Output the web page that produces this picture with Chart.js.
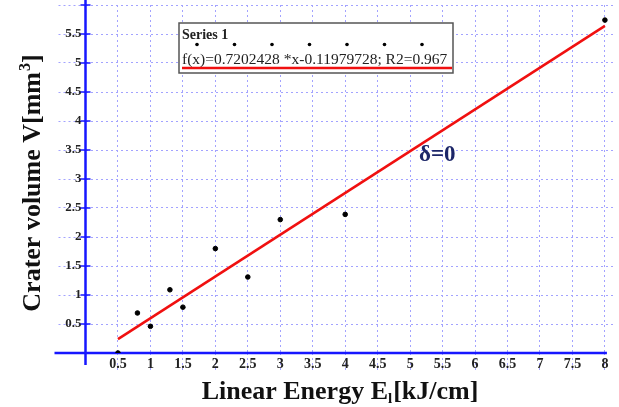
<!DOCTYPE html>
<html>
<head>
<meta charset="utf-8">
<script src="https://cdn.jsdelivr.net/npm/chart.js@4.4.1/dist/chart.umd.min.js"></script>
<style>
  html, body { margin: 0; padding: 0; background: #fff; }
  #wrap { width: 619px; height: 407px; }
</style>
</head>
<body>
<div id="wrap"><canvas id="chart" width="619" height="407"></canvas></div>
<script>
const energy = [0.5, 0.8, 1, 1.3, 1.5, 2, 2.5, 3, 4, 8];
const volume = [0, 0.69, 0.46, 1.09, 0.79, 1.8, 1.31, 2.3, 2.39, 5.74];

// regression line end points
const fitX = [0.5, 8];
const fitY = [0.24, 5.64];
const fitText = "f(x)=0.7202428 *x-0.11979728; R2=0.967";

const xTickValues = [0.5, 1, 1.5, 2, 2.5, 3, 3.5, 4, 4.5, 5, 5.5, 6, 6.5, 7, 7.5, 8];
const xTickLabels = ["0.5", "1", "1.5", "2", "2.5", "3", "3.5", "4", "4.5", "5", "5.5", "6", "6.5", "7", "7.5", "8"];
const yTickValues = [0.5, 1, 1.5, 2, 2.5, 3, 3.5, 4, 4.5, 5, 5.5, 6];
const yTickLabels = ["0.5", "1", "1.5", "2", "2.5", "3", "3.5", "4", "4.5", "5", "5.5", ""];

const SERIF = "'Liberation Serif', 'Times New Roman', serif";
const GRID = "#a3a3ff";
const AXIS = "#1717ff";

const decor = {
  id: "decor",
  beforeDatasetsDraw(chart) {
    const ctx = chart.ctx;
    const xs = chart.scales.x, ys = chart.scales.y;
    const x0 = xs.getPixelForValue(0);
    const y0 = ys.getPixelForValue(0);
    ctx.save();
    ctx.strokeStyle = AXIS;
    ctx.lineWidth = 2.5;
    ctx.beginPath();
    ctx.moveTo(x0, 0);
    ctx.lineTo(x0, y0 + 12);
    ctx.moveTo(x0 - 31, y0);
    ctx.lineTo(xs.getPixelForValue(8) + 2, y0);
    ctx.stroke();
    // short tick marks across the y axis
    ctx.lineWidth = 1.5;
    ctx.beginPath();
    ys.ticks.forEach((t) => {
      const py = ys.getPixelForValue(t.value);
      ctx.moveTo(x0 - 5, py);
      ctx.lineTo(x0 + 5, py);
    });
    ctx.stroke();
    ctx.restore();
  },
  afterDraw(chart) {
    const ctx = chart.ctx;
    ctx.save();
    ctx.fillStyle = "#111";

    // x title with subscript
    ctx.textBaseline = "alphabetic";
    const p1 = "Linear Energy E", p3 = "[kJ/cm]";
    ctx.font = "bold 26px " + SERIF;
    const w1 = ctx.measureText(p1).width, w3 = ctx.measureText(p3).width;
    ctx.font = "bold 15px " + SERIF;
    const w2 = ctx.measureText("l").width + 1;
    let tx = 340 - (w1 + w2 + w3) / 2;
    ctx.font = "bold 26px " + SERIF;
    ctx.fillText(p1, tx, 399);
    ctx.font = "bold 15px " + SERIF;
    ctx.fillText("l", tx + w1, 403);
    ctx.font = "bold 26px " + SERIF;
    ctx.fillText(p3, tx + w1 + w2, 399);

    // y title, rotated, with superscript
    ctx.save();
    ctx.translate(40, 183);
    ctx.rotate(-Math.PI / 2);
    const q1 = "Crater volume V[mm", q3 = "]";
    ctx.font = "bold 26px " + SERIF;
    const v1 = ctx.measureText(q1).width, v3 = ctx.measureText(q3).width;
    ctx.font = "bold 16px " + SERIF;
    const v2 = ctx.measureText("3").width + 1;
    let ty = -(v1 + v2 + v3) / 2;
    ctx.font = "bold 26px " + SERIF;
    ctx.fillText(q1, ty, 0);
    ctx.font = "bold 16px " + SERIF;
    ctx.fillText("3", ty + v1 + 1, -10);
    ctx.font = "bold 26px " + SERIF;
    ctx.fillText(q3, ty + v1 + v2, 0);
    ctx.restore();

    // legend box
    const bx = 179, by = 23, bw = 274, bh = 50;
    ctx.fillStyle = "#fff";
    ctx.fillRect(bx, by, bw, bh);
    ctx.strokeStyle = "#555";
    ctx.lineWidth = 1.5;
    ctx.strokeRect(bx, by, bw, bh);
    ctx.fillStyle = "#222";
    ctx.font = "bold 14px " + SERIF;
    ctx.textBaseline = "middle";
    ctx.fillText("Series 1", 182, 35);
    ctx.fillStyle = "#000";
    for (let dx = 197; dx < bx + bw - 20; dx += 37.5) {
      ctx.beginPath();
      ctx.arc(dx, 44.5, 1.8, 0, Math.PI * 2);
      ctx.fill();
    }
    ctx.fillStyle = "#222";
    ctx.font = "15.5px " + SERIF;
    ctx.fillText(fitText, 182, 60);
    ctx.strokeStyle = "#f01010";
    ctx.lineWidth = 2.5;
    ctx.beginPath();
    ctx.moveTo(182, 68);
    ctx.lineTo(452, 68);
    ctx.stroke();

    // delta annotation
    ctx.fillStyle = "#1c2668";
    ctx.font = "bold 23px " + SERIF;
    ctx.textBaseline = "middle";
    ctx.fillText("\u03b4=0", 419, 155);
    ctx.restore();
  }
};

new Chart(document.getElementById("chart"), {
  type: "scatter",
  data: {
    datasets: [
      {
        label: "Series 1",
        data: energy.map((x, i) => ({ x, y: volume[i] })),
        backgroundColor: "#000",
        borderColor: "#000",
        pointRadius: 2.3,
        order: 1,
      },
      {
        type: "line",
        label: "fit",
        data: fitX.map((x, i) => ({ x, y: fitY[i] })),
        borderColor: "#f01010",
        borderWidth: 2.5,
        pointRadius: 0,
        fill: false,
        order: 2,
      },
    ],
  },
  options: {
    responsive: false,
    animation: false,
    devicePixelRatio: 1,
    layout: { padding: { left: 0, right: 2, top: 0, bottom: 0 } },
    plugins: { legend: { display: false }, tooltip: { enabled: false } },
    scales: {
      x: {
        type: "linear",
        min: 0,
        max: 8.14,
        afterBuildTicks: (s) => { s.ticks = xTickValues.map((v) => ({ value: v })); },
        afterFit: (s) => { s.height = 54; },
        ticks: {
          callback: (v, i) => xTickLabels[i],
          color: "#222",
          font: { family: SERIF, size: 14, weight: "bold" },
          padding: -17,
          maxRotation: 0,
          autoSkip: false,
        },
        grid: { color: GRID, lineWidth: 1, tickLength: 20, tickColor: GRID, tickBorderDash: [2, 3] },
        border: { display: false, dash: [2, 3] },
      },
      y: {
        type: "linear",
        min: 0,
        max: 6,
        afterBuildTicks: (s) => { s.ticks = yTickValues.map((v) => ({ value: v })); },
        afterFit: (s) => { s.width = 85.5; },
        ticks: {
          callback: (v, i) => yTickLabels[i],
          color: "#222",
          font: { family: SERIF, size: 13, weight: "bold" },
          padding: -23,
          autoSkip: false,
        },
        grid: { color: GRID, lineWidth: 1, tickLength: 27, tickColor: GRID, tickBorderDash: [2, 3] },
        border: { display: false, dash: [2, 3] },
      },
    },
  },
  plugins: [decor],
});
</script>
</body>
</html>
